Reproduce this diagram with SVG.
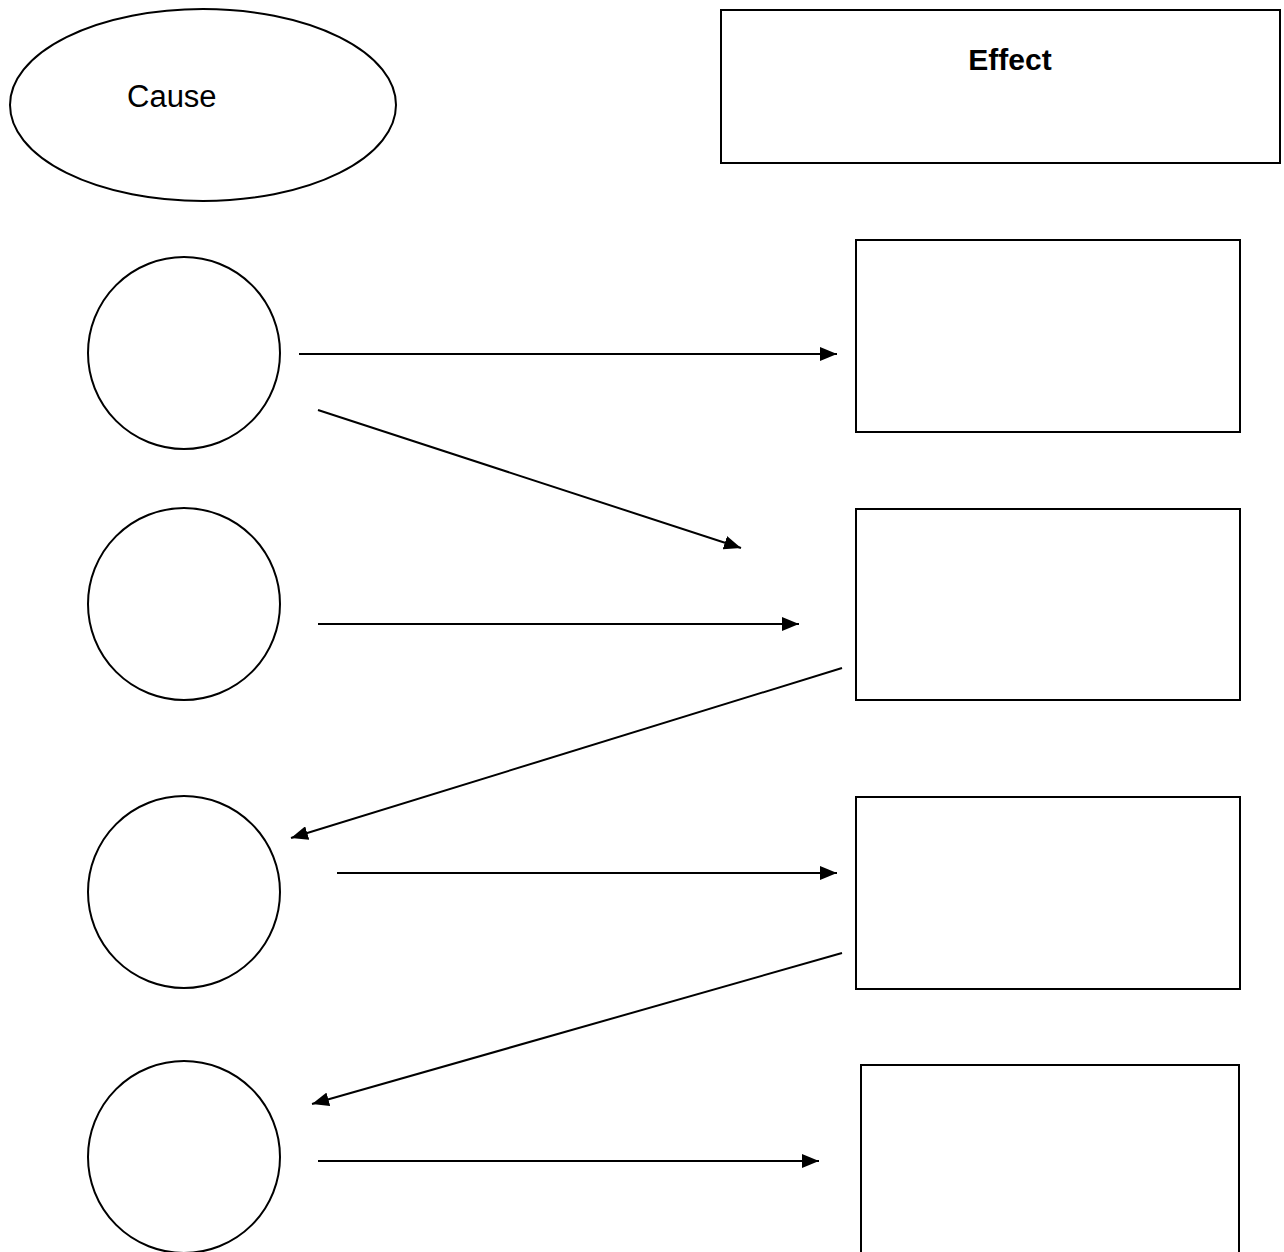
<svg xmlns="http://www.w3.org/2000/svg" width="1284" height="1252" viewBox="0 0 1284 1252">
<style>
.shape{fill:#fff;stroke:#000;stroke-width:2}
.conn{stroke:#000;stroke-width:2;fill:none;marker-end:url(#ah)}
.t{font-family:"Liberation Sans",Arial,sans-serif;fill:#000}
</style>
<defs>
<marker id="ah" markerUnits="userSpaceOnUse" markerWidth="18" markerHeight="14" refX="17" refY="7" orient="auto" viewBox="0 0 18 14">
<path d="M0,0 L17,7 L0,14 Z" fill="#000"/>
</marker>
</defs>
<rect width="1284" height="1252" fill="#fff"/>
<g id="cause">
<ellipse class="shape" cx="203" cy="105" rx="193" ry="96"/>
<text class="t" x="127" y="107" font-size="31">Cause</text>
</g>
<g id="effect">
<rect class="shape" x="721" y="10" width="559" height="153"/>
<text class="t" x="1010" y="70" font-size="30" font-weight="bold" text-anchor="middle">Effect</text>
</g>
<g id="c1"><circle class="shape" cx="184" cy="353" r="96"/></g>
<g id="c2"><circle class="shape" cx="184" cy="604" r="96"/></g>
<g id="c3"><circle class="shape" cx="184" cy="892" r="96"/></g>
<g id="c4"><circle class="shape" cx="184" cy="1157" r="96"/></g>
<g id="e1"><rect class="shape" x="856" y="240" width="384" height="192"/></g>
<g id="e2"><rect class="shape" x="856" y="509" width="384" height="191"/></g>
<g id="e3"><rect class="shape" x="856" y="797" width="384" height="192"/></g>
<g id="e4"><rect class="shape" x="861" y="1065" width="378" height="210"/></g>
<g id="connectors">
<line class="conn" x1="299" y1="354" x2="837" y2="354"/>
<line class="conn" x1="318" y1="410" x2="741" y2="548"/>
<line class="conn" x1="318" y1="624" x2="799" y2="624"/>
<line class="conn" x1="842" y1="668" x2="291" y2="838"/>
<line class="conn" x1="337" y1="873" x2="837" y2="873"/>
<line class="conn" x1="842" y1="953" x2="312" y2="1104"/>
<line class="conn" x1="318" y1="1161" x2="819" y2="1161"/>
</g>
</svg>
